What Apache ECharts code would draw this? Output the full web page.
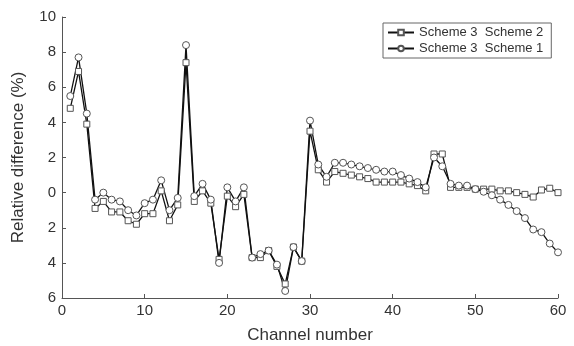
<!DOCTYPE html>
<html>
<head>
<meta charset="utf-8">
<script src="https://cdn.jsdelivr.net/npm/echarts@6/dist/echarts.min.js"></script>
<style>html,body{margin:0;padding:0;background:#fff}#c{width:574px;height:346px}</style>
</head>
<body>
<div id="c"></div>
<script>
var channels = [];
for (var i = 1; i <= 60; i++) channels.push(i);
var scheme32 = [4.8, 6.9, 3.9, -0.9, -0.5, -1.1, -1.1, -1.6, -1.8, -1.2,
  -1.2, 0.1, -1.6, -0.7, 7.4, -0.5, 0.1, -0.6, -3.8, -0.2,
  -0.8, -0.1, -3.7, -3.7, -3.3, -4.2, -5.2, -3.1, -3.9, 3.5,
  1.3, 0.6, 1.2, 1.1, 1.0, 0.9, 0.8, 0.6, 0.6, 0.6,
  0.6, 0.5, 0.4, 0.1, 2.2, 2.2, 0.3, 0.3, 0.3, 0.2,
  0.2, 0.2, 0.1, 0.1, 0.0, -0.1, -0.25, 0.15, 0.25, 0.0];
var scheme31 = [5.5, 7.7, 4.5, -0.4, 0.0, -0.4, -0.5, -1.0, -1.3, -0.6,
  -0.4, 0.7, -1.0, -0.3, 8.4, -0.2, 0.5, -0.4, -4.0, 0.3,
  -0.5, 0.3, -3.7, -3.5, -3.3, -4.1, -5.6, -3.1, -3.9, 4.1,
  1.6, 0.9, 1.7, 1.7, 1.6, 1.5, 1.4, 1.3, 1.2, 1.2,
  1.0, 0.8, 0.6, 0.3, 2.0, 1.5, 0.5, 0.4, 0.4, 0.2,
  0.05, -0.15, -0.4, -0.7, -1.05, -1.45, -2.1, -2.25, -2.9, -3.4];
var seriesNames = ['Scheme 3  Scheme 2', 'Scheme 3  Scheme 1'];

function pairs(vals) { return vals.map(function (v, i) { return [channels[i], v]; }); }

var chart = echarts.init(document.getElementById('c'), null, {renderer: 'canvas'});
var font = 'Liberation Sans, Arial, Helvetica, sans-serif';
chart.setOption({
  animation: false,
  backgroundColor: '#fff',
  grid: {left: 62, right: 16, top: 17, bottom: 48, outerBoundsMode: 'none', containLabel: false},
  legend: {
    left: 383, top: 23, orient: 'vertical',
    itemWidth: 26, itemHeight: 7, itemGap: 3,
    padding: [3, 8, 3, 4],
    borderColor: '#666', borderWidth: 1,
    textStyle: {fontFamily: font, fontSize: 13, color: '#333'},
    data: seriesNames
  },
  xAxis: {
    type: 'value', min: 0, max: 60, interval: 10,
    name: 'Channel number', nameLocation: 'middle', nameGap: 29,
    nameTextStyle: {fontFamily: font, fontSize: 17, color: '#333'},
    axisLine: {onZero: false, lineStyle: {color: '#555', width: 1}},
    axisTick: {inside: true, length: 4, lineStyle: {color: '#555'}},
    axisLabel: {fontFamily: font, fontSize: 15, color: '#333', margin: 5},
    splitLine: {show: false}
  },
  yAxis: {
    type: 'value', min: -6, max: 10, interval: 2,
    name: 'Relative difference (%)', nameLocation: 'middle', nameGap: 35,
    nameTextStyle: {fontFamily: font, fontSize: 17, color: '#333'},
    axisLine: {show: true, onZero: false, lineStyle: {color: '#555', width: 1}},
    axisTick: {show: true, inside: true, length: 4, lineStyle: {color: '#555'}},
    axisLabel: {fontFamily: font, fontSize: 15, color: '#333', margin: 6,
      formatter: function (v) { return String(Math.abs(v)); }},
    splitLine: {show: false}
  },
  series: [
    {name: seriesNames[0], type: 'line', data: pairs(scheme32),
      symbol: 'rect', symbolSize: 6, showAllSymbol: true,
      lineStyle: {color: '#111', width: 1.3},
      itemStyle: {color: '#fff', borderColor: '#555', borderWidth: 1}},
    {name: seriesNames[1], type: 'line', data: pairs(scheme31),
      symbol: 'circle', symbolSize: 7, showAllSymbol: true,
      lineStyle: {color: '#111', width: 1.3},
      itemStyle: {color: '#fff', borderColor: '#555', borderWidth: 1}}
  ]
});
</script>
</body>
</html>
